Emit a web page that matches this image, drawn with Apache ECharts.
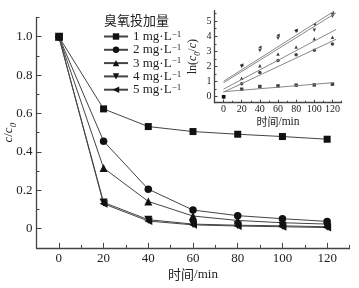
<!DOCTYPE html>
<html><head><meta charset="utf-8">
<script src="https://cdn.jsdelivr.net/npm/echarts@6/dist/echarts.min.js"></script>
<style>html,body{margin:0;padding:0;background:#fff}#c{width:359px;height:288px}</style>
</head><body><div id="c"></div>
<script>
// ---- data ----
const times = [0, 20, 40, 60, 80, 100, 120];
const doses = ['1', '2', '3', '4', '5'];
const ratio1 = [1, 0.624, 0.532, 0.506, 0.492, 0.480, 0.466];
const ratio2 = [1, 0.456, 0.206, 0.097, 0.068, 0.052, 0.038];
const ratio3 = [1, 0.316, 0.142, 0.066, 0.043, 0.031, 0.024];
const ratio4 = [1, 0.137, 0.047, 0.024, 0.018, 0.015, 0.010];
const ratio5 = [1, 0.130, 0.040, 0.020, 0.014, 0.010, 0.006];
const lnv1 = [0, 0.49, 0.67, 0.71, 0.76, 0.78, 0.83];
const lnv2 = [0, 0.85, 1.60, 2.40, 2.78, 3.07, 3.49];
const lnv3 = [0, 1.22, 2.05, 2.83, 3.29, 3.83, 3.93];
const lnv4 = [0, 2.00, 3.05, 3.87, 4.31, 4.40, 5.33];
const lnv5 = [0, 2.09, 3.27, 4.07, 4.40, 4.78, 5.51];
const fit1 = [[0, 0.33], [120, 0.92]];
const fit2 = [[0, 0.30], [124, 3.80]];
const fit3 = [[0, 0.50], [124, 4.45]];
const fit4 = [[0, 0.92], [124, 5.55]];
const fit5 = [[0, 1.02], [122, 5.67]];
const mainXTicks = [0, 20, 40, 60, 80, 100, 120];
const mainXMinor = [10, 30, 50, 70, 90, 110, 130];
const mainYTicks = [0, 0.2, 0.4, 0.6, 0.8, 1.0];
const mainYMinor = [0.1, 0.3, 0.5, 0.7, 0.9, 1.1];
const insetYTicks = [0, 1, 2, 3, 4, 5];
const insetYMinor = [0.5, 1.5, 2.5, 3.5, 4.5, 5.5];

const ratios = [ratio1, ratio2, ratio3, ratio4, ratio5];
const lnvs = [lnv1, lnv2, lnv3, lnv4, lnv5];
const fits = [fit1, fit2, fit3, fit4, fit5];
const symbols = ['rect', 'circle', 'triangle', 'triangle', 'triangle'];
const rots = [0, 0, 0, 180, 90];
const sizes = [7, 7.5, 8, 8, 8];

const serif = 'Liberation Serif';
const cjk = 'Noto Sans CJK SC';
const axisCol = '#444';

function pair(xs, ys) { return xs.map((x, i) => [x, ys[i]]); }

function valueAxis(grid, pos, min, max, ticks, fmt, fs, tickLen, margin, extra) {
  return Object.assign({
    type: 'value', gridIndex: grid, position: pos, min: min, max: max,
    nameMoveOverlap: false,
    splitLine: { show: false },
    axisLine: { show: true, onZero: false, lineStyle: { color: axisCol, width: 1.3 } },
    axisTick: { show: true, inside: true, length: tickLen, customValues: ticks, lineStyle: { color: axisCol, width: 1 } },
    axisLabel: { show: true, customValues: ticks, formatter: fmt, margin: margin,
      fontFamily: serif, fontSize: fs, color: '#222' }
  }, extra || {});
}
function minorAxis(grid, pos, min, max, ticks, len) {
  return {
    type: 'value', gridIndex: grid, position: pos, min: min, max: max, offset: 0,
    splitLine: { show: false },
    axisLine: { show: false, onZero: false },
    axisLabel: { show: false },
    axisTick: { show: true, inside: true, length: len, customValues: ticks, lineStyle: { color: axisCol, width: 1 } }
  };
}

const series = [];
ratios.forEach((r, i) => {
  series.push({
    name: doses[i], type: 'line', xAxisIndex: 0, yAxisIndex: 0,
    data: pair(times, r), symbol: symbols[i], symbolSize: sizes[i], symbolRotate: rots[i],
    lineStyle: { color: '#444', width: 1 }, itemStyle: { color: '#111' },
    z: 3
  });
});
lnvs.forEach((r, i) => {
  series.push({
    type: 'scatter', xAxisIndex: 2, yAxisIndex: 2,
    data: pair(times, r), symbol: symbols[i], symbolSize: 3.5, symbolRotate: rots[i],
    itemStyle: { color: '#111' }
  });
});
fits.forEach((f) => {
  series.push({
    type: 'line', xAxisIndex: 2, yAxisIndex: 2, data: f, symbol: 'none',
    lineStyle: { color: '#888', width: 1 }
  });
});

const chart = echarts.init(document.getElementById('c'), null, { renderer: 'canvas' });
chart.setOption({
  animation: false,
  backgroundColor: '#fff',
  grid: [
    { left: 36.5, top: 17.5, width: 313, height: 230.4, containLabel: false, outerBoundsMode: 'none' },
    { left: 214.5, top: 10.6, width: 127, height: 92.1, containLabel: false, outerBoundsMode: 'none' }
  ],
  xAxis: [
    valueAxis(0, 'bottom', -10, 130, mainXTicks, v => String(v), 13, 5, 4,
      { name: '{c|时间}{n|/min}', nameLocation: 'middle', nameGap: 20,
        nameTextStyle: { color: '#222', rich: {
          c: { fontFamily: cjk, fontSize: 13 }, n: { fontFamily: serif, fontSize: 13 } } } }),
    minorAxis(0, 'bottom', -10, 130, mainXMinor, 3),
    valueAxis(1, 'bottom', -10, 130, mainXTicks, v => String(v), 10, 3, 2,
      { name: '{c|时间}{n|/min}', nameLocation: 'middle', nameGap: 13,
        nameTextStyle: { color: '#222', rich: {
          c: { fontFamily: cjk, fontSize: 11 }, n: { fontFamily: serif, fontSize: 11.5 } } } }),
    minorAxis(1, 'bottom', -10, 130, mainXMinor, 2)
  ],
  yAxis: [
    valueAxis(0, 'left', -0.1, 1.1, mainYTicks, v => (v === 0 ? '0' : v.toFixed(1)), 13, 5, 4,
      { name: '{i|c}{n|/}{i|c}{s|0}', nameLocation: 'middle', nameGap: 21, nameRotate: 90,
        nameTextStyle: { color: '#222', rich: {
          i: { fontFamily: serif, fontStyle: 'italic', fontSize: 13 },
          n: { fontFamily: serif, fontSize: 13 },
          s: { fontFamily: serif, fontStyle: 'italic', fontSize: 9, verticalAlign: 'bottom', lineHeight: 9, padding: [0, 0, -3, 0] }
        } } }),
    minorAxis(0, 'left', -0.1, 1.1, mainYMinor, 3),
    valueAxis(1, 'left', -0.4, 5.7, insetYTicks, v => String(v), 10, 3, 3,
      { name: '{n|ln(}{i|c}{s|0}{n|/}{i|c}{n|)}', nameLocation: 'middle', nameGap: 16, nameRotate: 90,
        nameTextStyle: { color: '#222', rich: {
          i: { fontFamily: serif, fontStyle: 'italic', fontSize: 12 },
          n: { fontFamily: serif, fontSize: 12 },
          s: { fontFamily: serif, fontStyle: 'italic', fontSize: 8, verticalAlign: 'bottom', lineHeight: 8, padding: [0, 0, -3, 0] }
        } } }),
    minorAxis(1, 'left', -0.4, 5.7, insetYMinor, 2)
  ],
  title: {
    text: '臭氧投加量', left: 104, top: 14, padding: 0,
    textStyle: { fontFamily: cjk, fontSize: 13, fontWeight: 'normal', color: '#222' }
  },
  legend: {
    data: doses, orient: 'vertical', left: 103, top: 30, padding: 0,
    itemWidth: 24, itemHeight: 8, itemGap: 0.3,
    formatter: d => '{t|' + d + ' mg·L}{s|−1}',
    textStyle: { color: '#222', rich: {
      t: { fontFamily: serif, fontSize: 13, lineHeight: 13 },
      s: { fontFamily: serif, fontSize: 9, verticalAlign: 'top', lineHeight: 9 }
    } }
  },
  series: series
});
</script></body></html>
